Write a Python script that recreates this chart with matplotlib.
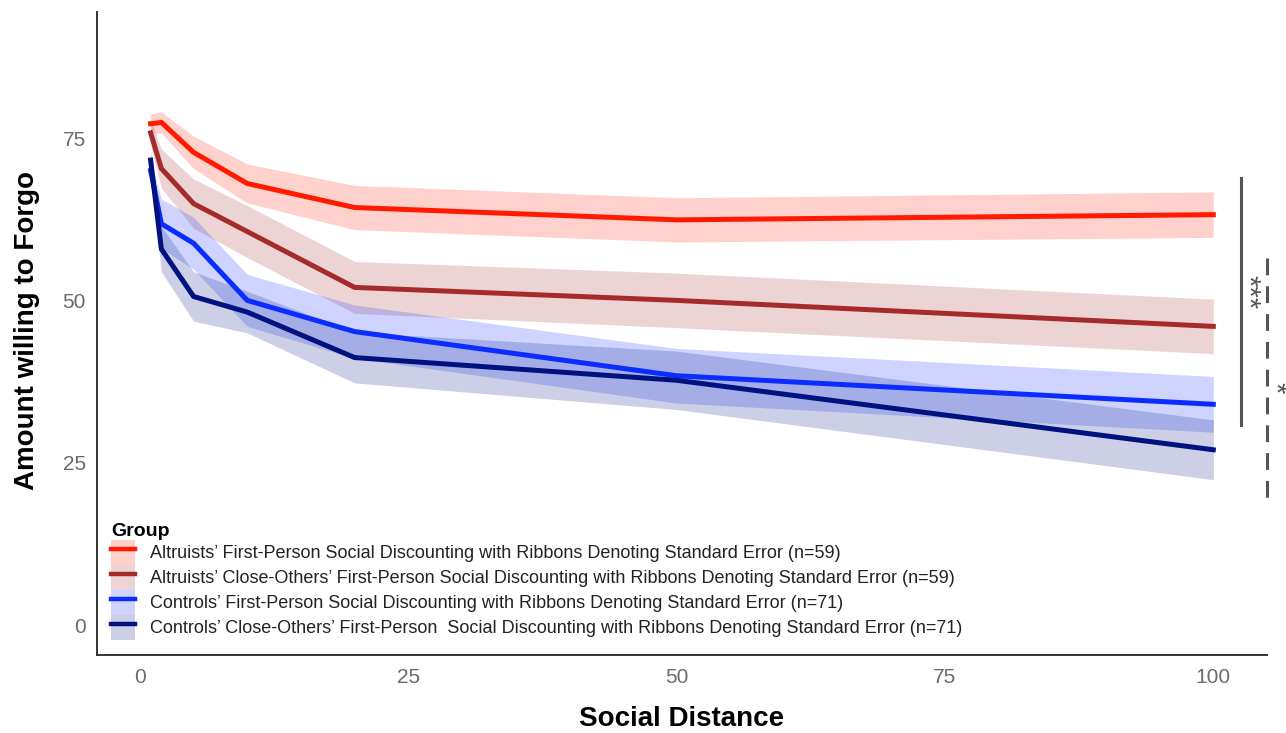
import numpy as np
import matplotlib.pyplot as plt
from matplotlib.patches import Patch
from matplotlib.lines import Line2D
from matplotlib.legend_handler import HandlerTuple

plt.rcParams['font.family'] = ['Liberation Sans', 'DejaVu Sans']

# social distance levels and group means / standard errors
distance = [1, 2, 5, 10, 20, 50, 100]
alt_self = [77.2, 77.4, 72.8, 68.0, 64.3, 62.4, 63.2]
alt_self_se = [1.5, 1.6, 2.5, 3.0, 3.4, 3.4, 3.5]
alt_close = [75.8, 70.3, 64.9, 60.6, 52.0, 50.0, 46.0]
alt_close_se = [2.0, 3.0, 3.8, 4.0, 4.0, 4.2, 4.2]
ctl_self = [70.0, 61.8, 58.8, 50.0, 45.2, 38.4, 34.0]
ctl_self_se = [1.5, 3.8, 4.0, 4.0, 4.1, 4.2, 4.3]
ctl_close = [71.6, 57.9, 50.6, 48.2, 41.2, 37.7, 27.0]
ctl_close_se = [1.5, 3.5, 3.8, 3.2, 3.9, 4.5, 4.6]

labels = [
    "Altruists\u2019 First-Person Social Discounting with Ribbons Denoting Standard Error (n=59)",
    "Altruists\u2019 Close-Others\u2019 First-Person Social Discounting with Ribbons Denoting Standard Error (n=59)",
    "Controls\u2019 First-Person Social Discounting with Ribbons Denoting Standard Error (n=71)",
    "Controls\u2019 Close-Others\u2019 First-Person  Social Discounting with Ribbons Denoting Standard Error (n=71)",
]
colors = ["#ff1a00", "#a52a2a", "#0a2cff", "#00127f"]
means = [alt_self, alt_close, ctl_self, ctl_close]
ses = [alt_self_se, alt_close_se, ctl_self_se, ctl_close_se]

# significance brackets
sig_x = [102.6, 105.0]
sig_top = [68.8, 56.6]
sig_bottom = [30.8, 18.8]
sig_labels = ["***", "*"]
sig_label_x = [103.2, 105.7]
sig_label_y = [51.3, 36.6]

fig = plt.figure(figsize=(12.86, 7.33), dpi=100)
ax = fig.add_axes([0.0754, 0.1064, 0.9098, 0.8772])

x = np.array(distance)
for m, s, c in zip(means, ses, colors):
    m = np.array(m)
    s = np.array(s)
    ax.fill_between(x, m - s, m + s, color=c, alpha=0.2, linewidth=0)
for m, c in zip(means, colors):
    ax.plot(x, m, color=c, linewidth=3.6, solid_joinstyle='miter')

handles = []
for c in colors:
    handles.append((Patch(facecolor=c, alpha=0.2, edgecolor='none'),
                    Line2D([], [], color=c, linewidth=3.2)))

# significance markers
ax.plot([sig_x[0], sig_x[0]], [sig_top[0], sig_bottom[0]], color="#555555",
        linewidth=2.2, clip_on=False)
ax.plot([sig_x[1], sig_x[1]], [sig_top[1], sig_bottom[1]], color="#555555",
        linewidth=2.2, linestyle=(0, (5.5, 3.6)), clip_on=False)
for lx, ly, lab in zip(sig_label_x, sig_label_y, sig_labels):
    ax.text(lx, ly, lab, rotation=270, ha='center', va='center',
            fontsize=21, color="#555555", clip_on=False)

ax.set_xlim(-4, 105)
ax.set_ylim(-4.6, 94.4)
ax.set_xticks([0, 25, 50, 75, 100])
ax.set_yticks([0, 25, 50, 75])
ax.tick_params(length=0, labelsize=15, labelcolor="#6b6b6b")
ax.tick_params(axis='x', pad=9)
ax.tick_params(axis='y', pad=8)
for sp in ['top', 'right']:
    ax.spines[sp].set_visible(False)
for sp in ['left', 'bottom']:
    ax.spines[sp].set_color("#333333")
    ax.spines[sp].set_linewidth(1.4)

ax.set_xlabel("Social Distance", fontsize=20, fontweight='bold', va='center')
ax.set_ylabel("Amount willing to Forgo", fontsize=20, fontweight='bold', va='center')
ax.xaxis.set_label_coords(0.5, -0.1)
ax.yaxis.set_label_coords(-0.0598, 0.504)

leg = ax.legend(handles, labels, title="Group", loc='lower left',
                bbox_to_anchor=(0.012, 0.024), frameon=False, fontsize=13,
                title_fontproperties={'weight': 'bold', 'size': 14},
                handlelength=1.33, handleheight=1.75, labelspacing=0.0,
                handletextpad=0.85, borderaxespad=0.0, borderpad=0.0,
                handler_map={tuple: HandlerTuple(ndivide=1, pad=0)})
leg._legend_box.align = "left"
for t in leg.get_texts():
    t.set_color("#222222")

fig.savefig("out.png", dpi=100)
